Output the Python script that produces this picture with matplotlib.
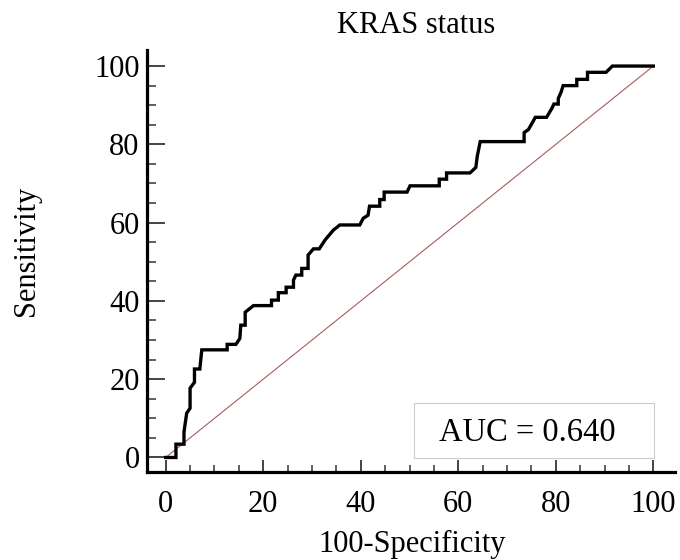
import matplotlib
matplotlib.use("Agg")
import matplotlib.pyplot as plt
from matplotlib.ticker import MultipleLocator
from matplotlib.patches import Rectangle

# ---- data ----
title_text = "KRAS status"
x_label = "100-Specificity"
y_label = "Sensitivity"
auc_value = 0.640

fpr = [0, 2.1, 2.1, 3.75, 3.75, 4.3, 5.0, 5.0, 5.9, 5.9, 7.0, 7.4, 12.6, 12.6,
       14.4, 15.2, 15.4, 16.3, 16.3, 18.0, 21.7, 21.7, 23.1, 23.1, 24.7, 24.7,
       26.2, 26.2, 26.7, 27.9, 27.9, 29.2, 29.2, 30.3, 31.5, 32.7, 34.4, 35.7,
       39.8, 40.5, 41.5, 41.8, 43.9, 43.9, 44.8, 44.8, 49.5, 50.1, 56.1, 56.1,
       57.6, 57.6, 62.4, 63.6, 63.9, 64.5, 73.5, 73.5, 74.4, 75.8, 78.1, 79.2,
       79.6, 80.5, 80.5, 81.1, 81.5, 84.3, 84.3, 84.8, 86.5, 86.5, 90.3, 91.6,
       100]
tpr = [0, 0, 3.4, 3.4, 6.5, 11.3, 12.6, 17.7, 19.2, 22.6, 22.6, 27.5, 27.5, 28.9,
       28.9, 30.4, 33.8, 33.8, 37.1, 38.8, 38.8, 40.2, 40.2, 42.1, 42.1, 43.5,
       43.5, 45.3, 46.6, 46.6, 48.3, 48.3, 51.7, 53.3, 53.3, 55.6, 58.1, 59.4,
       59.4, 61.1, 61.9, 64.2, 64.2, 65.9, 65.9, 67.8, 67.8, 69.4, 69.4, 71.1,
       71.1, 72.7, 72.7, 74.1, 77.0, 80.7, 80.7, 83.0, 83.8, 86.9, 86.9, 89.2,
       90.3, 90.3, 91.7, 93.4, 95.0, 95.0, 96.6, 96.6, 96.6, 98.4, 98.4, 100,
       100]
ref_line = [0, 100]

major_step = 20
minor_step = 5

# ---- style ----
plt.rcParams["font.family"] = ["Liberation Serif", "DejaVu Serif"]
FS = 22

fig = plt.figure(figsize=(6.8, 5.6), dpi=100)
ax = fig.add_axes([0.2157, 0.1577, 0.777, 0.753])

ax.plot(ref_line, ref_line, color="#a85c5c", lw=0.8, zorder=2)
ax.plot(fpr, tpr, color="black", lw=2.4, solid_joinstyle="miter", zorder=3)

ax.set_xlim(-3.9, 104.45)
ax.set_ylim(-3.63, 104.1)

for s in ("top", "right"):
    ax.spines[s].set_visible(False)
for s in ("left", "bottom"):
    ax.spines[s].set_linewidth(2.3)
    ax.spines[s].set_color("black")

for axis in (ax.xaxis, ax.yaxis):
    axis.set_major_locator(MultipleLocator(major_step))
    axis.set_minor_locator(MultipleLocator(minor_step))

ax.tick_params(axis="y", which="major", direction="in", length=12.7, width=1.4,
               color="#444444", pad=5, labelsize=FS)
ax.tick_params(axis="y", which="minor", direction="in", length=6.5, width=1.2,
               color="#444444")
ax.tick_params(axis="x", which="major", direction="in", length=8.6, width=1.4,
               color="#444444", pad=13, labelsize=FS)
ax.tick_params(axis="x", which="minor", direction="in", length=4.7, width=1.2,
               color="#444444")

ax.set_title(title_text, fontsize=FS, pad=12, x=0.51)

ax.set_xlabel(x_label, fontsize=FS)
ax.xaxis.set_label_coords(0.502, -0.1895)
ax.xaxis.label.set_verticalalignment("baseline")

ax.set_ylabel(y_label, fontsize=FS)
ax.yaxis.set_label_coords(-0.2266, 0.523)
ax.yaxis.label.set_verticalalignment("center")

# AUC box
ax.add_patch(Rectangle((0.506, 0.0318), 0.455, 0.1318, transform=ax.transAxes,
                       facecolor="white", edgecolor="#cccccc", lw=0.8, zorder=4))
ax.text(0.72, 0.093, f"AUC = {auc_value:.3f}", transform=ax.transAxes,
        ha="center", va="center", fontsize=FS + 1.5, zorder=5)

fig.savefig("out.png", dpi=100)
